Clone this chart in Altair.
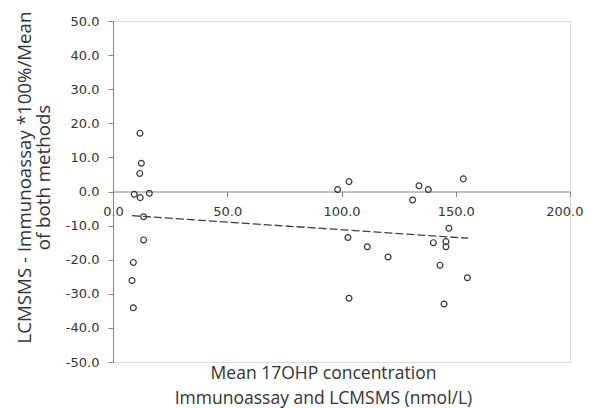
import altair as alt
import pandas as pd

# Scatter points (Mean concentration, % difference)
x_vals = [11.8, 12.4, 11.7, 9.3, 11.9, 15.9, 13.4, 13.4, 8.9, 8.3, 8.9,
          98.3, 103.3, 133.9, 138.0, 131.1, 153.3, 147.0, 102.8, 111.3,
          120.4, 140.2, 145.7, 145.7, 143.1, 155.1, 103.3, 144.9]
y_vals = [17.1, 8.3, 5.3, -0.8, -1.8, -0.5, -7.4, -14.2, -20.8, -26.1, -34.1,
          0.6, 2.9, 1.7, 0.6, -2.5, 3.7, -10.8, -13.5, -16.2,
          -19.2, -15.0, -14.7, -16.2, -21.6, -25.3, -31.3, -33.0]

# Trend line end points
line_x = [8.3, 155.5]
line_y = [-7.1, -13.7]

x_ticks = [0, 50, 100, 150, 200]
y_ticks = [-50, -40, -30, -20, -10, 0, 10, 20, 30, 40, 50]

pts = pd.DataFrame({"x": x_vals, "y": y_vals})
trend = pd.DataFrame({"x": line_x, "y": line_y})

AX = "#868686"
TXT = "#333333"
LBL_FONT = "DejaVu Sans"
TTL_FONT = "Open Sans"

label_expr = "replace(format(datum.value, '.1f'), '\u2212', '-')"

xs = alt.Scale(domain=[0, 200], nice=False, zero=False)
ys = alt.Scale(domain=[-50, 50], nice=False, zero=False)

x_axis = alt.Axis(
    values=x_ticks, tickCount=20, labelExpr=label_expr, grid=False,
    orient="bottom", offset=-170.5, domainColor=AX, tickColor=AX, tickSize=5,
    labelFont=LBL_FONT, labelFontSize=13, labelColor=TXT, labelPadding=9,
    labelOverlap=False, labelFlush=False,
    labelAlign=alt.ExprRef(expr="datum.value >= 200 ? 'right' : 'center'"),
    labelOffset=alt.ExprRef(expr="datum.value >= 200 ? 13 : 0"),
    title=["Mean 17OHP concentration", "Immunoassay and LCMSMS (nmol/L)"],
    titleFont=TTL_FONT, titleFontSize=17.5, titleFontWeight="normal",
    titleColor=TXT, titleLineHeight=25, titleX=210, titleY=181.5,
    titleAnchor="middle", titleAlign="center", titleBaseline="middle",
)
y_axis = alt.Axis(
    values=y_ticks, tickCount=20, labelExpr=label_expr, grid=False,
    domainColor=AX, tickColor=AX, tickSize=5,
    labelFont=LBL_FONT, labelFontSize=13, labelColor=TXT, labelPadding=9,
    labelOverlap=False, labelFlush=False,
    title=["LCMSMS - Immunoassay *100%/Mean", "of both methods"],
    titleFont=TTL_FONT, titleFontSize=18.7, titleFontWeight="normal",
    titleColor=TXT, titleLineHeight=19, titleX=-89, titleY=156,
    titleAngle=270, titleAlign="center", titleBaseline="middle",
)

points = alt.Chart(pts).mark_point(
    shape="circle", filled=False, size=34, stroke="#333333", strokeWidth=1.2,
    opacity=1
).encode(
    x=alt.X("x:Q", scale=xs, axis=x_axis),
    y=alt.Y("y:Q", scale=ys, axis=y_axis),
)

line = alt.Chart(trend).mark_line(
    color="#404040", strokeWidth=1.3, strokeDash=[8, 3]
).encode(
    x=alt.X("x:Q", scale=xs),
    y=alt.Y("y:Q", scale=ys),
)

chart = alt.layer(points, line).properties(
    width=457, height=341,
    padding={"left": 105, "top": 13, "right": 14, "bottom": 46},
    autosize=alt.AutoSizeParams(type="none"),
).configure_axis(
    labelOverlap=False
).configure_view(
    stroke="#d0d0d0", strokeWidth=1
).configure(background="white")

chart.save("out.html", embed_options={"renderer": "svg", "actions": False})
